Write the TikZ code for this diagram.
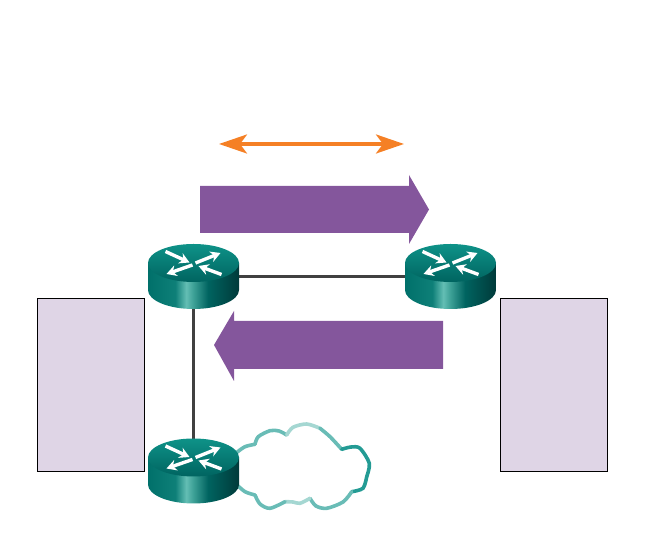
\documentclass[tikz,border=0pt]{standalone}
\usetikzlibrary{arrows.meta}

\definecolor{linkgray}{RGB}{64,64,64}
\definecolor{boxlilac}{RGB}{223,213,230}
\definecolor{flowpurple}{RGB}{132,86,156}
\definecolor{spanorange}{RGB}{245,128,37}
\definecolor{routerlight}{RGB}{14,146,136}
\definecolor{routerdark}{RGB}{0,100,96}
\definecolor{cloudpale}{RGB}{165,215,210}
\definecolor{cloudmid}{RGB}{105,188,182}
\definecolor{clouddeep}{RGB}{35,155,148}

\pgfdeclarehorizontalshading{routerbody}{100bp}{
  rgb(0bp)=(0,0.44,0.416);
  rgb(25bp)=(0,0.44,0.416);
  rgb(40bp)=(0.055,0.50,0.47);
  rgb(46bp)=(0.39,0.745,0.706);
  rgb(50bp)=(0.235,0.627,0.588);
  rgb(58bp)=(0,0.39,0.376);
  rgb(75bp)=(0,0.227,0.227);
  rgb(100bp)=(0,0.227,0.227)}

\tikzset{
  routernode/.style={inner sep=0pt,minimum width=91pt,minimum height=65pt},
  routerarrow/.style={white,line width=3.4pt,-{Stealth[length=10pt,width=11pt]}},
  hostbox/.style={draw=black,line width=0.6pt,fill=boxlilac,inner sep=0pt,
    minimum width=107pt,minimum height=173pt},
  link/.style={linkgray,line width=2.4pt},
  flow/.style={fill=flowpurple},
  cloudline/.style={line width=3.6pt,line cap=round},
}

% router: flat cylinder with four small arrows on the lid
\newcommand{\routerdevice}[3]{
  \node[routernode] (#1) at (#2,#3) {};
  \begin{scope}[shift={(#2,#3)}]
    \shade[shading=routerbody] (-45.5,13.5) -- (-45.5,-13.5)
      arc[start angle=180,end angle=360,x radius=45.5,y radius=19] -- (45.5,13.5) -- cycle;
    \shade[top color=routerlight,bottom color=routerdark] (0,13.5) ellipse (45.5 and 19);
    \draw[routerarrow] (-28,25) -- (-4,14);
    \draw[routerarrow] (2,13.5) -- (27,23.5);
    \draw[routerarrow] (-1,11.5) -- (-27,2.5);
    \draw[routerarrow] (28,2) -- (5,10.5);
  \end{scope}
}

\begin{document}
\begin{tikzpicture}[x=1pt,y=1pt]
  \useasboundingbox (0,0) rectangle (653,556);

  % Links go under the routers
  \coordinate (R1east) at (239,279.5);
  \coordinate (R2west) at (405,279.5);
  \coordinate (R1south) at (193.5,247);
  \coordinate (R3north) at (193.5,110);
  \draw[link] (R1east) -- (R2west);
  \draw[link] (R1south) -- (R3north);

  % Cloud outline, lobe by lobe
  \draw[cloudline,cloudmid] plot[smooth] coordinates {(236,103) (245,109.3) (255,111.7)};
  \draw[cloudline,cloudmid] plot[smooth] coordinates {(255,111.7) (258.3,119.3) (270,125.3) (279,125) (286.7,121)};
  \draw[cloudline,cloudpale] plot[smooth] coordinates {(286.7,121) (293,128.7) (306.7,132) (320,127.7)};
  \draw[cloudline,cloudmid] plot[smooth] coordinates {(320,127.7) (330,119.3) (341.7,106.7)};
  \draw[cloudline,clouddeep] plot[smooth] coordinates {(341.7,106.7) (351,109) (360,107.7) (369.3,92.7) (366.7,79.3)};
  \draw[cloudline,clouddeep] plot[smooth] coordinates {(366.7,79.3) (363,67.7) (351.7,64.3)};
  \draw[cloudline,cloudmid] plot[smooth] coordinates {(351.7,64.3) (343,54) (326.7,47.7) (316,50) (310,57.7)};
  \draw[cloudline,cloudpale] plot[smooth] coordinates {(310,57.7) (300,52.7) (293,54) (285,54.3)};
  \draw[cloudline,cloudmid] plot[smooth] coordinates {(285,54.3) (270,47.7) (260,52) (255,61)};
  \draw[cloudline,cloudmid] plot[smooth] coordinates {(255,61) (245,64.3) (236,72)};

  % Devices
  \routerdevice{R1}{193.5}{279.5}
  \routerdevice{R2}{450.5}{279.5}
  \routerdevice{R3}{193.5}{85}

  % Side panels
  \node[hostbox] (boxL) at (90.5,171.5) {};
  \node[hostbox] (boxR) at (553.5,171.5) {};

  % Flow arrows
  \fill[flow] (200,323) -- (409,323) -- (409,312) -- (429,346.5) -- (409,381) -- (409,370) -- (200,370) -- cycle;
  \fill[flow] (443,187) -- (234,187) -- (234,175) -- (214,211) -- (234,245) -- (234,235) -- (443,235) -- cycle;

  % Span arrow
  \coordinate (spanL) at (219,412);
  \coordinate (spanR) at (404,412);
  \draw[spanorange,line width=3.5pt,{Stealth[length=28pt,width=19pt,inset=7pt]}-{Stealth[length=28pt,width=19pt,inset=7pt]}] (spanL) -- (spanR);
\end{tikzpicture}
\end{document}
